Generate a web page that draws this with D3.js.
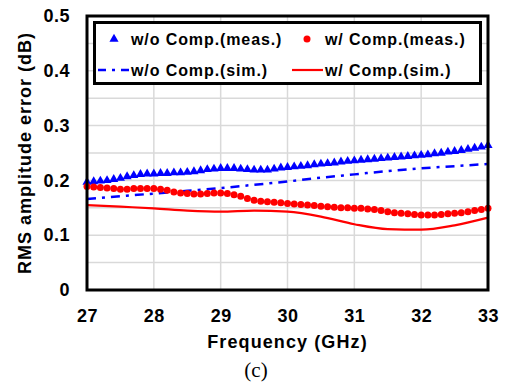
<!DOCTYPE html>
<html>
<head>
<meta charset="utf-8">
<script src="https://cdn.jsdelivr.net/npm/d3@7"></script>
<style>
  body { margin: 0; background: #fff; }
  text { font-family: "Liberation Sans", Arial, sans-serif; font-weight: bold; fill: #000; }
</style>
</head>
<body>
<div id="vis"></div>
<script>
var width = 508;
var height = 388;

// measured points, 0.1 GHz step from 27 to 33
var measFreq = d3.range(0, 61).map(function (i) { return 27 + i / 10; });
var woMeas = [0.197, 0.198, 0.199, 0.200, 0.202, 0.204, 0.207, 0.209, 0.211, 0.212,
  0.212, 0.213, 0.213, 0.214, 0.214, 0.215, 0.216, 0.218, 0.220, 0.221,
  0.222, 0.222, 0.222, 0.221, 0.220, 0.219, 0.219, 0.219, 0.221, 0.223,
  0.224, 0.225, 0.226, 0.227, 0.229, 0.230, 0.231, 0.232, 0.234, 0.235,
  0.236, 0.237, 0.238, 0.239, 0.240, 0.241, 0.242, 0.243, 0.244, 0.245,
  0.246, 0.247, 0.249, 0.250, 0.252, 0.253, 0.255, 0.257, 0.259, 0.261,
  0.264];
var wMeas = [0.189, 0.188, 0.187, 0.186, 0.185, 0.184, 0.184, 0.185, 0.185, 0.185,
  0.185, 0.184, 0.182, 0.179, 0.177, 0.176, 0.175, 0.175, 0.176, 0.177,
  0.177, 0.176, 0.174, 0.171, 0.167, 0.164, 0.162, 0.161, 0.160, 0.159,
  0.158, 0.157, 0.156, 0.155, 0.154, 0.153, 0.152, 0.151, 0.150, 0.150,
  0.149, 0.149, 0.148, 0.147, 0.145, 0.143, 0.141, 0.140, 0.139, 0.138,
  0.137, 0.137, 0.137, 0.138, 0.139, 0.140, 0.141, 0.143, 0.145, 0.147,
  0.149];

// simulated curves
var simFreq = [27, 27.5, 28, 28.5, 29, 29.5, 30, 30.5, 31, 31.5, 32, 32.5, 33];
var woSim = [0.166, 0.171, 0.176, 0.181, 0.186, 0.192, 0.198, 0.205, 0.211, 0.217, 0.222, 0.226, 0.230];
var wSim = [0.155, 0.152, 0.149, 0.145, 0.143, 0.145, 0.143, 0.134, 0.120, 0.111, 0.110, 0.118, 0.132];

var xTicks = [27, 28, 29, 30, 31, 32, 33];
var yTicks = [0, 0.1, 0.2, 0.3, 0.4, 0.5];
var yGrid = [0.05, 0.1, 0.15, 0.2, 0.25, 0.3, 0.35, 0.4, 0.45];

var legendLabels = ["w/o Comp.(meas.)", "w/ Comp.(meas.)", "w/o Comp.(sim.)", "w/ Comp.(sim.)"];

var padding = {top: 16, left: 87, right: 20, bottom: 98};

var svg = d3.select('#vis').append('svg')
  .attr("width", width)
  .attr("height", height);

var x = d3.scaleLinear().domain([27, 33]).range([padding.left, width - padding.right]);
var y = d3.scaleLinear().domain([0, 0.5]).range([height - padding.bottom, padding.top]);

// grid
svg.append("g").selectAll("line").data(yGrid).enter().append("line")
  .attr("x1", x(27)).attr("x2", x(33))
  .attr("y1", function (d) { return y(d); }).attr("y2", function (d) { return y(d); })
  .attr("stroke", "#d9d9d9").attr("stroke-width", 1.5);
svg.append("g").selectAll("line").data(xTicks.slice(1, -1)).enter().append("line")
  .attr("y1", y(0)).attr("y2", y(0.5))
  .attr("x1", function (d) { return x(d); }).attr("x2", function (d) { return x(d); })
  .attr("stroke", "#d9d9d9").attr("stroke-width", 1.5);

// axes (labels only, frame drawn as a rect)
var xAxis = svg.append("g")
  .attr("transform", "translate(0," + y(0) + ")")
  .call(d3.axisBottom(x).tickValues(xTicks).tickSize(0).tickPadding(19).tickFormat(d3.format("d")));
var yAxis = svg.append("g")
  .attr("transform", "translate(" + x(27) + ",0)")
  .call(d3.axisLeft(y).tickValues(yTicks).tickSize(0).tickPadding(17)
    .tickFormat(function (d) { return d === 0 ? "0" : d3.format(".1f")(d); }));
[xAxis, yAxis].forEach(function (a) {
  a.select(".domain").remove();
  a.selectAll("text").attr("font-size", 18).attr("font-family", "Liberation Sans, Arial, sans-serif")
    .attr("font-weight", "bold").attr("fill", "#000").attr("letter-spacing", 0.5);
});

// simulated lines
var simLine = function (vals) {
  return d3.line()
    .x(function (d, i) { return x(simFreq[i]); })
    .y(function (d) { return y(d); })
    .curve(d3.curveMonotoneX)(vals);
};
svg.append("path").attr("d", simLine(wSim))
  .attr("fill", "none").attr("stroke", "#ff0000").attr("stroke-width", 2.2);
svg.append("path").attr("d", simLine(woSim))
  .attr("fill", "none").attr("stroke", "#0000ff").attr("stroke-width", 2.5)
  .attr("stroke-dasharray", "9,6,3,6");

// measured markers
var tri = d3.symbol().type(d3.symbolTriangle).size(36);
svg.append("g").selectAll("path").data(woMeas).enter().append("path")
  .attr("d", tri)
  .attr("fill", "#0000ff")
  .attr("transform", function (d, i) { return "translate(" + x(measFreq[i]) + "," + y(d) + ")"; });
svg.append("g").selectAll("circle").data(wMeas).enter().append("circle")
  .attr("r", 3.5)
  .attr("fill", "#ff0000")
  .attr("cx", function (d, i) { return x(measFreq[i]); })
  .attr("cy", function (d) { return y(d); });

// plot frame
svg.append("rect")
  .attr("x", x(27)).attr("y", y(0.5))
  .attr("width", x(33) - x(27)).attr("height", y(0) - y(0.5))
  .attr("fill", "none").attr("stroke", "#000").attr("stroke-width", 3);

// legend
var lg = svg.append("g");
lg.append("rect").attr("x", 94.5).attr("y", 22.5).attr("width", 386).attr("height", 61)
  .attr("fill", "#fff").attr("stroke", "#000").attr("stroke-width", 3);
var rowY = [39, 70];
var colX = [98, 292];
lg.append("path").attr("d", d3.symbol().type(d3.symbolTriangle).size(36))
  .attr("fill", "#0000ff").attr("transform", "translate(114," + rowY[0] + ")");
lg.append("circle").attr("cx", 307).attr("cy", rowY[0]).attr("r", 3.5).attr("fill", "#ff0000");
lg.append("line").attr("x1", colX[0]).attr("x2", colX[0] + 31).attr("y1", rowY[1]).attr("y2", rowY[1])
  .attr("stroke", "#0000ff").attr("stroke-width", 2.5).attr("stroke-dasharray", "8,6,3,6");
lg.append("line").attr("x1", colX[1]).attr("x2", colX[1] + 31).attr("y1", rowY[1]).attr("y2", rowY[1])
  .attr("stroke", "#ff0000").attr("stroke-width", 2.2);
lg.selectAll("text").data(legendLabels).enter().append("text")
  .attr("x", function (d, i) { return i % 2 === 0 ? 131 : 325; })
  .attr("y", function (d, i) { return rowY[Math.floor(i / 2)]; })
  .attr("dy", "0.35em")
  .attr("font-size", 16)
  .attr("letter-spacing", 0.9)
  .text(function (d) { return d; });

// axis titles
svg.append("text")
  .attr("x", (x(27) + x(33)) / 2).attr("y", 342).attr("dy", "0.35em")
  .attr("text-anchor", "middle").attr("font-size", 18).attr("letter-spacing", 1.1)
  .text("Frequency (GHz)");
svg.append("text")
  .attr("transform", "translate(25," + (y(0) + y(0.5)) / 2 + ") rotate(-90)")
  .attr("dy", "0.35em")
  .attr("text-anchor", "middle").attr("font-size", 18).attr("letter-spacing", 1)
  .text("RMS amplitude error (dB)");
svg.append("text")
  .attr("x", 256).attr("y", 370).attr("dy", "0.35em")
  .attr("text-anchor", "middle").attr("font-size", 21)
  .style("font-family", "Liberation Serif, Times New Roman, serif").style("font-weight", "normal")
  .text("(c)");
</script>
</body>
</html>
